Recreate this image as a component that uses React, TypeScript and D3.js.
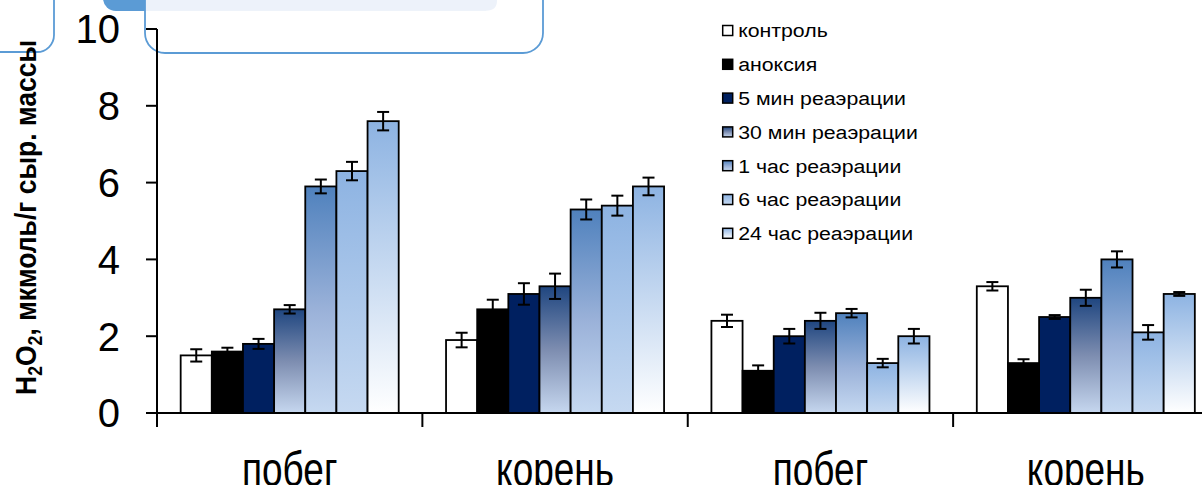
import React from "react";
import * as d3 from "d3";

const categories = ["побег", "корень", "побег", "корень"];
const seriesNames = [
  "контроль",
  "аноксия",
  "5 мин реаэрации",
  "30 мин реаэрации",
  "1 час реаэрации",
  "6 час реаэрации",
  "24 час реаэрации",
];
const values = [
  [1.5, 1.9, 2.4, 3.3],
  [1.6, 2.7, 1.1, 1.3],
  [1.8, 3.1, 2.0, 2.5],
  [2.7, 3.3, 2.4, 3.0],
  [5.9, 5.3, 2.6, 4.0],
  [6.3, 5.4, 1.3, 2.1],
  [7.6, 5.9, 2.0, 3.1],
];
const errors = [
  [0.16, 0.19, 0.16, 0.11],
  [0.1, 0.25, 0.14, 0.1],
  [0.13, 0.28, 0.19, 0.05],
  [0.11, 0.33, 0.21, 0.21],
  [0.18, 0.26, 0.11, 0.21],
  [0.24, 0.26, 0.11, 0.19],
  [0.24, 0.23, 0.19, 0.05],
];
const yTicks = [0, 2, 4, 6, 8, 10];

const FONT = "Arial, 'Liberation Sans', sans-serif";
const BLUE = "#5b9bd5";

const gradients: { id: string; stops: [string, string][] }[] = [
  { id: "g0", stops: [["0%", "#ffffff"], ["100%", "#ffffff"]] },
  { id: "g1", stops: [["0%", "#000000"], ["100%", "#000000"]] },
  { id: "g2", stops: [["0%", "#002060"], ["100%", "#002060"]] },
  { id: "g3", stops: [["0%", "#1f4680"], ["50%", "#7d8db0"], ["100%", "#c6d7ef"]] },
  { id: "g4", stops: [["0%", "#4f81bd"], ["55%", "#9bb2d9"], ["100%", "#c6d9f1"]] },
  { id: "g5", stops: [["0%", "#8db3e2"], ["100%", "#c6d9f1"]] },
  { id: "g6", stops: [["0%", "#8db3e2"], ["100%", "#ffffff"]] },
];

export default function App() {
  const W = 1202;
  const H = 485;
  const x0 = d3.scaleBand<number>().domain(d3.range(categories.length)).range([157, 1218.5]).padding(0);
  const x1 = d3
    .scaleBand<number>()
    .domain(d3.range(seriesNames.length))
    .range([0, x0.bandwidth()])
    .paddingInner(0)
    .paddingOuter(0.76);
  const y = d3.scaleLinear().domain([0, 10]).range([413, 29]);

  const legendY = d3.scaleLinear().domain([0, 1]).range([30.5, 64.3]);

  return (
    <svg
      width={W}
      height={H}
      style={{ position: "absolute", left: 0, top: 0, display: "block", background: "#fff" }}
    >
      <defs>
        {gradients.map((g) => (
          <linearGradient key={g.id} id={g.id} x1="0" y1="0" x2="0" y2="1">
            {g.stops.map(([o, c], i) => (
              <stop key={i} offset={o} stopColor={c} />
            ))}
          </linearGradient>
        ))}
      </defs>

      {/* top decorations */}
      <rect x={-40} y={-40} width={94} height={92} rx={17} fill="#fff" stroke={BLUE} strokeWidth={1.8} />
      <rect x={103} y={-30} width={400} height={41} rx={13} fill={BLUE} />
      <rect x={145} y={-40} width={398} height={93} rx={20} fill="#fff" stroke={BLUE} strokeWidth={1.8} />
      <path d="M146,0 H497 V0.5 Q497,10.7 486,10.7 H146 Z" fill="#edf2fa" />
      <rect x={146} y={0} width={340} height={10.7} fill="#edf2fa" />

      {/* y axis */}
      <line x1={157} x2={157} y1={y(10)} y2={413} stroke="#000" strokeWidth={2} />
      {yTicks.map((t) => (
        <g key={t}>
          <line x1={146} x2={157} y1={y(t)} y2={y(t)} stroke="#000" strokeWidth={2} />
          <text
            x={120}
            y={y(t)}
            dy="0.36em"
            textAnchor="end"
            fontFamily={FONT}
            fontSize={40}
            fill="#000"
          >
            {t}
          </text>
        </g>
      ))}

      {/* y title */}
      <text
        transform="translate(36,217.5) rotate(-90)"
        textAnchor="middle"
        fontFamily={FONT}
        fontWeight="bold"
        fontSize={30}
        textLength={355}
        lengthAdjust="spacingAndGlyphs"
        fill="#000"
      >
        H<tspan fontSize={20} dy={6}>2</tspan>
        <tspan dy={-6}>O</tspan>
        <tspan fontSize={20} dy={6}>2</tspan>
        <tspan dy={-6}>, мкмоль/г сыр. массы</tspan>
      </text>

      {/* bars */}
      {categories.map((c, ci) => (
        <g key={ci} transform={`translate(${x0(ci)},0)`}>
          {seriesNames.map((s, si) => {
            const v = values[si][ci];
            const e = errors[si][ci];
            const bx = x1(si)!;
            const bw = x1.bandwidth();
            const cx = bx + bw / 2;
            return (
              <g key={si}>
                <rect
                  x={bx}
                  y={y(v)}
                  width={bw}
                  height={y(0) - y(v)}
                  fill={`url(#g${si})`}
                  stroke="#000"
                  strokeWidth={1.8}
                />
                <line x1={cx} x2={cx} y1={y(v + e)} y2={y(v - e)} stroke="#000" strokeWidth={2} />
                <line x1={cx - 6} x2={cx + 6} y1={y(v + e)} y2={y(v + e)} stroke="#000" strokeWidth={2} />
                <line x1={cx - 6} x2={cx + 6} y1={y(v - e)} y2={y(v - e)} stroke="#000" strokeWidth={2} />
              </g>
            );
          })}
        </g>
      ))}

      {/* x axis */}
      <line x1={157} x2={W} y1={413} y2={413} stroke="#000" strokeWidth={2} />
      {d3.range(categories.length + 1).map((i) => {
        const xx = 157 + i * x0.step();
        return <line key={i} x1={xx} x2={xx} y1={413} y2={427} stroke="#000" strokeWidth={2} />;
      })}
      {categories.map((c, ci) => (
        <text
          key={ci}
          transform={`translate(${x0(ci)! + x0.bandwidth() / 2},486) scale(0.77,1)`}
          textAnchor="middle"
          fontFamily={FONT}
          fontSize={48}
          fill="#000"
        >
          {c}
        </text>
      ))}

      {/* legend */}
      {seriesNames.map((s, si) => (
        <g key={si} transform={`translate(722.7,${legendY(si)})`}>
          <rect x={0} y={-5} width={10} height={10} fill={`url(#g${si})`} stroke="#000" strokeWidth={1.5} />
          <text
            transform="translate(15.5,0) scale(1.12,1)"
            dy="0.36em"
            fontFamily={FONT}
            fontSize={19}
            fill="#000"
          >
            {s}
          </text>
        </g>
      ))}
    </svg>
  );
}
